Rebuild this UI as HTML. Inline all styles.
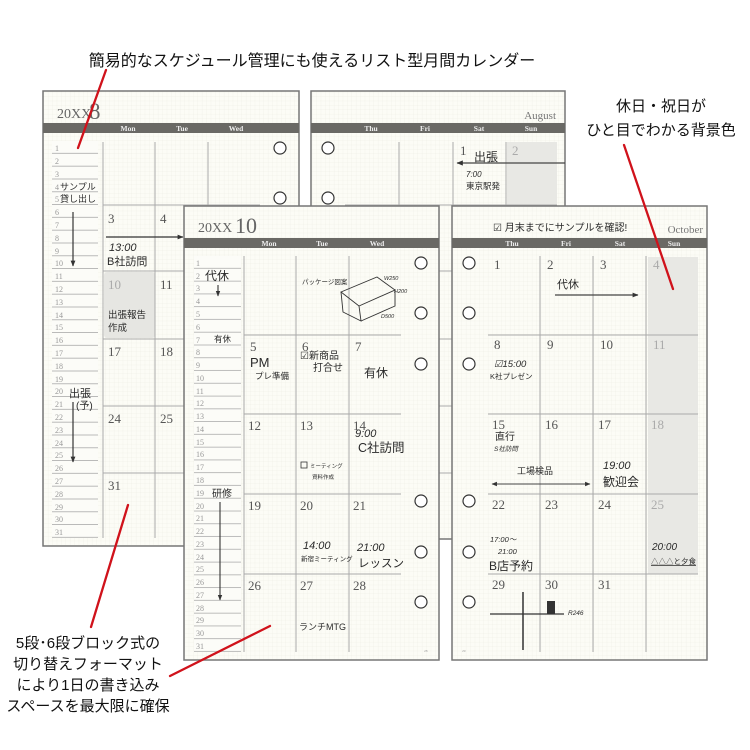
<!DOCTYPE html>
<html><head><meta charset="utf-8"><style>
html,body{margin:0;padding:0;background:#fff;}
svg{display:block;}
.ann{font-family:"Liberation Sans","Noto Sans CJK JP",sans-serif;fill:#111;}
.ser{font-family:"Liberation Serif","Noto Serif CJK SC",serif;}
.hw{font-family:"Liberation Sans","Noto Sans CJK JP",sans-serif;fill:#2a2a2a;}
.num{font-family:"Liberation Serif",serif;font-size:13px;fill:#555;}
.gnum{font-family:"Liberation Serif",serif;font-size:13px;fill:#aaa;}
.ln{font-family:"Liberation Serif",serif;font-size:8px;fill:#999;}
.day{font-family:"Liberation Serif",serif;font-size:7.5px;fill:#eee;font-weight:bold;}
</style></head><body>
<svg width="750" height="750" viewBox="0 0 750 750" xmlns="http://www.w3.org/2000/svg">
<defs>
<pattern id="grid" width="4.4" height="4.4" patternUnits="userSpaceOnUse">
<rect width="4.4" height="4.4" fill="#fcfcf6"/>
<path d="M4.4 0V4.4H0" fill="none" stroke="#ecece3" stroke-width="0.5"/>
</pattern>
<pattern id="listA" width="50" height="12.8" patternUnits="userSpaceOnUse" patternTransform="translate(0,141)">
<rect width="50" height="12.8" fill="#fcfcf8"/>
<rect y="12" width="50" height="0.9" fill="#aaa"/>
</pattern>
<pattern id="listC" width="50" height="12.77" patternUnits="userSpaceOnUse" patternTransform="translate(0,256)">
<rect width="50" height="12.77" fill="#fcfcf8"/>
<rect y="12" width="50" height="0.9" fill="#aaa"/>
</pattern>
<marker id="ar" viewBox="0 0 10 10" refX="9" refY="5" markerWidth="5" markerHeight="5" orient="auto-start-reverse"><path d="M0 1L10 5L0 9z" fill="#333"/></marker>
</defs>
<rect width="750" height="750" fill="#fff"/>

<!-- ============ PAGE A (Aug left) ============ -->
<rect x="43" y="91" width="256" height="455" fill="url(#grid)" stroke="#777" stroke-width="1.5"/>
<rect x="43" y="123" width="256" height="10" fill="#6a6965"/>
<text x="57" y="118" class="ser" font-size="14" fill="#666">20XX</text>
<text x="89" y="119" class="ser" font-size="23" fill="#666">8</text>
<text x="128" y="131" class="day" text-anchor="middle">Mon</text>
<text x="182" y="131" class="day" text-anchor="middle">Tue</text>
<text x="236" y="131" class="day" text-anchor="middle">Wed</text>
<rect x="52" y="141" width="46" height="397" fill="url(#listA)"/>
<g class="ln">
<text x="55" y="151">1</text><text x="55" y="164">2</text><text x="55" y="177">3</text><text x="55" y="190">4</text><text x="55" y="202">5</text><text x="55" y="215">6</text><text x="55" y="228">7</text><text x="55" y="241">8</text><text x="55" y="254">9</text><text x="55" y="266">10</text><text x="55" y="279">11</text><text x="55" y="292">12</text><text x="55" y="305">13</text><text x="55" y="318">14</text><text x="55" y="330">15</text><text x="55" y="343">16</text><text x="55" y="356">17</text><text x="55" y="369">18</text><text x="55" y="382">19</text><text x="55" y="394">20</text><text x="55" y="407">21</text><text x="55" y="420">22</text><text x="55" y="433">23</text><text x="55" y="446">24</text><text x="55" y="458">25</text><text x="55" y="471">26</text><text x="55" y="484">27</text><text x="55" y="497">28</text><text x="55" y="510">29</text><text x="55" y="522">30</text><text x="55" y="535">31</text>
</g>
<rect x="104" y="272" width="51" height="66" rx="3" fill="#e6e6e2"/>
<g stroke="#aaa" stroke-width="1">
<line x1="103" y1="142" x2="103" y2="538"/><line x1="155" y1="142" x2="155" y2="538"/><line x1="208" y1="142" x2="208" y2="538"/>
<line x1="103" y1="205" x2="260" y2="205"/><line x1="103" y1="271" x2="260" y2="271"/><line x1="103" y1="339" x2="260" y2="339"/><line x1="103" y1="406" x2="260" y2="406"/><line x1="103" y1="473" x2="260" y2="473"/>
</g>
<circle cx="280" cy="148" r="6" fill="#fff" stroke="#333" stroke-width="1.2"/>
<circle cx="280" cy="198" r="6" fill="#fff" stroke="#333" stroke-width="1.2"/>
<text x="108" y="223" class="num">3</text><text x="160" y="223" class="num">4</text>
<text x="108" y="289" class="gnum">10</text><text x="160" y="289" class="num">11</text>
<text x="108" y="356" class="num">17</text><text x="160" y="356" class="num">18</text>
<text x="108" y="423" class="num">24</text><text x="160" y="423" class="num">25</text>
<text x="108" y="490" class="num">31</text>
<text x="60" y="190" class="hw" font-size="9">サンプル</text>
<text x="60" y="202" class="hw" font-size="9">貸し出し</text>
<line x1="73" y1="212" x2="73" y2="266" stroke="#333" stroke-width="1.2" marker-end="url(#ar)"/>
<line x1="106" y1="237" x2="183" y2="237" stroke="#333" stroke-width="1.2" marker-end="url(#ar)"/>
<text x="109" y="251" class="hw" font-size="11" font-style="italic">13:00</text>
<text x="107" y="265" class="hw" font-size="11">B社訪問</text>
<text x="108" y="318" class="hw" font-size="9.5">出張報告</text>
<text x="108" y="331" class="hw" font-size="9.5">作成</text>
<text x="69" y="397" class="hw" font-size="11">出張</text>
<text x="76" y="409" class="hw" font-size="10">(予)</text>
<line x1="73" y1="402" x2="73" y2="462" stroke="#333" stroke-width="1.2" marker-end="url(#ar)"/>

<!-- ============ PAGE B (Aug right) ============ -->
<rect x="311" y="91" width="254" height="448" fill="url(#grid)" stroke="#777" stroke-width="1.5"/>
<rect x="311" y="123" width="254" height="10" fill="#6a6965"/>
<text x="556" y="119" class="ser" font-size="11" fill="#777" text-anchor="end">August</text>
<text x="371" y="131" class="day" text-anchor="middle">Thu</text>
<text x="425" y="131" class="day" text-anchor="middle">Fri</text>
<text x="479" y="131" class="day" text-anchor="middle">Sat</text>
<text x="531" y="131" class="day" text-anchor="middle">Sun</text>
<rect x="507" y="142" width="50" height="330" fill="#e8e8e4"/>
<g stroke="#aaa" stroke-width="1">
<line x1="399" y1="142" x2="399" y2="538"/><line x1="453" y1="142" x2="453" y2="538"/><line x1="506" y1="142" x2="506" y2="538"/>
<line x1="345" y1="205" x2="557" y2="205"/><line x1="345" y1="271" x2="557" y2="271"/><line x1="345" y1="339" x2="557" y2="339"/><line x1="345" y1="406" x2="557" y2="406"/><line x1="345" y1="473" x2="557" y2="473"/>
</g>
<circle cx="328" cy="148" r="6" fill="#fff" stroke="#333" stroke-width="1.2"/>
<circle cx="328" cy="198" r="6" fill="#fff" stroke="#333" stroke-width="1.2"/>
<text x="460" y="155" class="num">1</text><text x="512" y="155" class="gnum">2</text>
<text x="474" y="161" class="hw" font-size="12">出張</text>
<line x1="565" y1="163" x2="457" y2="163" stroke="#444" stroke-width="1.3" marker-end="url(#ar)"/>
<text x="466" y="177" class="hw" font-size="8" font-style="italic">7:00</text>
<text x="466" y="189" class="hw" font-size="8.5">東京駅発</text>

<!-- ============ PAGE C (Oct left) ============ -->
<rect x="184" y="206" width="255" height="454" fill="url(#grid)" stroke="#777" stroke-width="1.5"/>
<rect x="184" y="238" width="255" height="10" fill="#6a6965"/>
<text x="198" y="232" class="ser" font-size="14" fill="#666">20XX</text>
<text x="235" y="233" class="ser" font-size="22" fill="#666">10</text>
<text x="269" y="246" class="day" text-anchor="middle">Mon</text>
<text x="322" y="246" class="day" text-anchor="middle">Tue</text>
<text x="377" y="246" class="day" text-anchor="middle">Wed</text>
<rect x="194" y="256" width="47" height="396" fill="url(#listC)"/>
<g class="ln">
<text x="196" y="266">1</text><text x="196" y="279">2</text><text x="196" y="291">3</text><text x="196" y="304">4</text><text x="196" y="317">5</text><text x="196" y="330">6</text><text x="196" y="343">7</text><text x="196" y="355">8</text><text x="196" y="368">9</text><text x="196" y="381">10</text><text x="196" y="394">11</text><text x="196" y="406">12</text><text x="196" y="419">13</text><text x="196" y="432">14</text><text x="196" y="445">15</text><text x="196" y="457">16</text><text x="196" y="470">17</text><text x="196" y="483">18</text><text x="196" y="496">19</text><text x="196" y="509">20</text><text x="196" y="521">21</text><text x="196" y="534">22</text><text x="196" y="547">23</text><text x="196" y="560">24</text><text x="196" y="572">25</text><text x="196" y="585">26</text><text x="196" y="598">27</text><text x="196" y="611">28</text><text x="196" y="623">29</text><text x="196" y="636">30</text><text x="196" y="649">31</text>
</g>
<g stroke="#aaa" stroke-width="1">
<line x1="244" y1="256" x2="244" y2="652"/><line x1="296" y1="256" x2="296" y2="652"/><line x1="349" y1="256" x2="349" y2="652"/>
<line x1="244" y1="335" x2="401" y2="335"/><line x1="244" y1="414" x2="401" y2="414"/><line x1="244" y1="494" x2="401" y2="494"/><line x1="244" y1="574" x2="401" y2="574"/>
</g>
<g fill="#fff" stroke="#333" stroke-width="1.2">
<circle cx="421" cy="263" r="6"/><circle cx="421" cy="313" r="6"/><circle cx="421" cy="364" r="6"/>
<circle cx="421" cy="501" r="6"/><circle cx="421" cy="552" r="6"/><circle cx="421" cy="602" r="6"/>
</g>
<text x="250" y="351" class="num">5</text><text x="302" y="351" class="num">6</text><text x="355" y="351" class="num">7</text>
<text x="248" y="430" class="num">12</text><text x="300" y="430" class="num">13</text><text x="353" y="430" class="num">14</text>
<text x="248" y="510" class="num">19</text><text x="300" y="510" class="num">20</text><text x="353" y="510" class="num">21</text>
<text x="248" y="590" class="num">26</text><text x="300" y="590" class="num">27</text><text x="353" y="590" class="num">28</text>
<text x="205" y="280" class="hw" font-size="12">代休</text>
<line x1="218" y1="285" x2="218" y2="296" stroke="#333" stroke-width="1.1" marker-end="url(#ar)"/>
<text x="214" y="342" class="hw" font-size="8.5">有休</text>
<text x="212" y="497" class="hw" font-size="10">研修</text>
<line x1="220" y1="502" x2="220" y2="600" stroke="#333" stroke-width="1.1" marker-end="url(#ar)"/>
<text x="302" y="284" class="hw" font-size="6.5">パッケージ図案</text>
<g fill="none" stroke="#333" stroke-width="0.9">
<path d="M341 292L377 277L395 290L359 306Z"/><path d="M341 292L343 312L361 321L359 306"/><path d="M361 321L395 306L395 290"/>
</g>
<text x="384" y="280" class="hw" font-size="5.5" font-style="italic">W250</text>
<text x="394" y="293" class="hw" font-size="5.5" font-style="italic">H200</text>
<text x="381" y="318" class="hw" font-size="5.5" font-style="italic">D500</text>
<text x="250" y="367" class="hw" font-size="13">PM</text>
<text x="255" y="379" class="hw" font-size="8.5">プレ準備</text>
<text x="300" y="359" class="hw" font-size="10">☑新商品</text>
<text x="313" y="371" class="hw" font-size="10">打合せ</text>
<text x="364" y="377" class="hw" font-size="12">有休</text>
<text x="355" y="437" class="hw" font-size="11" font-style="italic">9:00</text>
<text x="358" y="452" class="hw" font-size="12.5">C社訪問</text>
<rect x="301" y="462" width="6" height="6" fill="none" stroke="#333" stroke-width="0.8"/>
<text x="310" y="468" class="hw" font-size="5.5">ミーティング</text>
<text x="312" y="479" class="hw" font-size="5.5">資料作成</text>
<text x="303" y="549" class="hw" font-size="11" font-style="italic">14:00</text>
<text x="301" y="561" class="hw" font-size="6.5">新宿ミーティング</text>
<text x="357" y="551" class="hw" font-size="11" font-style="italic">21:00</text>
<text x="358" y="567" class="hw" font-size="11.5">レッスン</text>
<text x="299" y="630" class="hw" font-size="9">ランチMTG</text>
<text x="424" y="652" font-size="3.5" fill="#999">28</text>

<!-- ============ PAGE D (Oct right) ============ -->
<rect x="452" y="206" width="255" height="454" fill="url(#grid)" stroke="#777" stroke-width="1.5"/>
<rect x="452" y="238" width="255" height="10" fill="#6a6965"/>
<text x="703" y="233" class="ser" font-size="11" fill="#777" text-anchor="end">October</text>
<text x="512" y="246" class="day" text-anchor="middle">Thu</text>
<text x="566" y="246" class="day" text-anchor="middle">Fri</text>
<text x="620" y="246" class="day" text-anchor="middle">Sat</text>
<text x="674" y="246" class="day" text-anchor="middle">Sun</text>
<rect x="648" y="257" width="50" height="317" fill="#e8e8e4"/>
<g stroke="#aaa" stroke-width="1">
<line x1="540" y1="256" x2="540" y2="652"/><line x1="593" y1="256" x2="593" y2="652"/><line x1="646" y1="256" x2="646" y2="652"/>
<line x1="488" y1="335" x2="698" y2="335"/><line x1="488" y1="414" x2="698" y2="414"/><line x1="488" y1="494" x2="698" y2="494"/><line x1="488" y1="574" x2="698" y2="574"/>
</g>
<g fill="#fff" stroke="#333" stroke-width="1.2">
<circle cx="469" cy="263" r="6"/><circle cx="469" cy="313" r="6"/><circle cx="469" cy="364" r="6"/>
<circle cx="469" cy="501" r="6"/><circle cx="469" cy="552" r="6"/><circle cx="469" cy="602" r="6"/>
</g>
<text x="494" y="269" class="num">1</text><text x="547" y="269" class="num">2</text><text x="600" y="269" class="num">3</text><text x="653" y="269" class="gnum">4</text>
<text x="494" y="349" class="num">8</text><text x="547" y="349" class="num">9</text><text x="600" y="349" class="num">10</text><text x="653" y="349" class="gnum">11</text>
<text x="492" y="429" class="num">15</text><text x="545" y="429" class="num">16</text><text x="598" y="429" class="num">17</text><text x="651" y="429" class="gnum">18</text>
<text x="492" y="509" class="num">22</text><text x="545" y="509" class="num">23</text><text x="598" y="509" class="num">24</text><text x="651" y="509" class="gnum">25</text>
<text x="492" y="589" class="num">29</text><text x="545" y="589" class="num">30</text><text x="598" y="589" class="num">31</text>
<text x="493" y="231" class="hw" font-size="10">☑ 月末までにサンプルを確認!</text>
<text x="557" y="288" class="hw" font-size="11">代休</text>
<line x1="555" y1="295" x2="638" y2="295" stroke="#444" stroke-width="1.2" marker-end="url(#ar)"/>
<text x="494" y="367" class="hw" font-size="9.5" font-style="italic">☑15:00</text>
<text x="490" y="379" class="hw" font-size="7.5">K社プレゼン</text>
<text x="495" y="440" class="hw" font-size="10">直行</text>
<text x="494" y="451" class="hw" font-size="6.5" font-style="italic">S社訪問</text>
<text x="517" y="474" class="hw" font-size="9">工場検品</text>
<line x1="492" y1="484" x2="590" y2="484" stroke="#444" stroke-width="1.1" marker-start="url(#ar)" marker-end="url(#ar)"/>
<text x="603" y="469" class="hw" font-size="11" font-style="italic">19:00</text>
<text x="603" y="486" class="hw" font-size="12">歓迎会</text>
<text x="490" y="542" class="hw" font-size="7.5" font-style="italic">17:00〜</text>
<text x="498" y="554" class="hw" font-size="7.5" font-style="italic">21:00</text>
<text x="489" y="570" class="hw" font-size="12">B店予約</text>
<text x="652" y="550" class="hw" font-size="10" font-style="italic">20:00</text>
<text x="651" y="564" class="hw" font-size="7.5" text-decoration="underline">△△△と夕食</text>
<line x1="490" y1="614" x2="564" y2="614" stroke="#333" stroke-width="1.2"/>
<line x1="523" y1="592" x2="523" y2="650" stroke="#333" stroke-width="1.5"/>
<rect x="547" y="601" width="8" height="13" fill="#333"/>
<text x="568" y="615" class="hw" font-size="6.5" font-style="italic">R246</text>
<text x="462" y="652" font-size="3.5" fill="#999">29</text>

<!-- ============ Annotations ============ -->
<text x="312" y="66" class="ann" font-size="16" text-anchor="middle">簡易的なスケジュール管理にも使えるリスト型月間カレンダー</text>
<text x="661" y="111" class="ann" font-size="15" text-anchor="middle">休日・祝日が</text>
<text x="661" y="135" class="ann" font-size="15" text-anchor="middle">ひと目でわかる背景色</text>
<g class="ann" font-size="15" text-anchor="middle">
<text x="88" y="648">5段･6段ブロック式の</text>
<text x="88" y="669">切り替えフォーマット</text>
<text x="88" y="690">により1日の書き込み</text>
<text x="88" y="711">スペースを最大限に確保</text>
</g>
<g stroke="#d0121b" stroke-width="2.3" stroke-linecap="round">
<line x1="106" y1="70" x2="78" y2="148"/>
<line x1="624" y1="145" x2="673" y2="289"/>
<line x1="91" y1="627" x2="128" y2="505"/>
<line x1="170" y1="676" x2="270" y2="626"/>
</g>
</svg>
</body></html>
